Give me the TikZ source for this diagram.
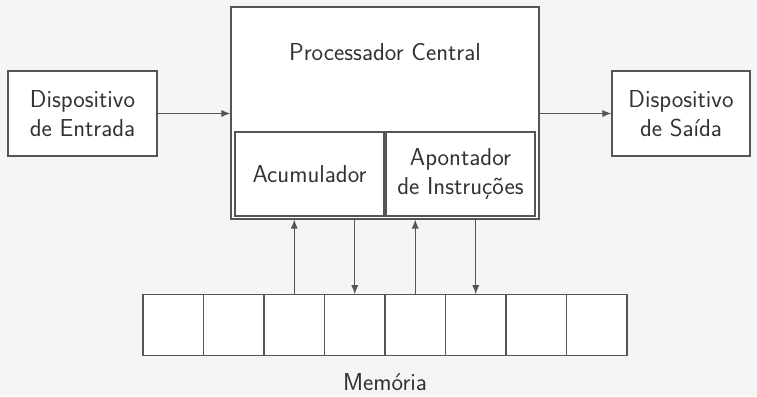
\documentclass[tikz,border=0pt]{standalone}
\usetikzlibrary{arrows.meta}
\definecolor{bgc}{HTML}{F5F5F5}
\definecolor{linec}{HTML}{555555}
\definecolor{txtc}{HTML}{333333}
\begin{document}
\begin{tikzpicture}[x=1pt,y=-1pt,
  every node/.style={font=\sffamily\fontsize{24.5}{29}\selectfont, text=txtc},
  blk/.style={draw=linec, fill=white, line width=1.1pt, align=center, inner sep=0pt},
  cell/.style={draw=linec, fill=white, line width=1.1pt, minimum width=60.5pt, minimum height=60.5pt, inner sep=0pt},
  conn/.style={draw=linec, line width=1pt, -{Latex[length=9pt,width=7pt]}}]
\fill[bgc] (0,0) rectangle (757,396);
\useasboundingbox (0,0) rectangle (757,396);
\node[blk, minimum width=149pt, minimum height=85pt] (entrada) at (82.5,113.5) {Dispositivo\\de Entrada};
\node[blk, minimum width=138pt, minimum height=85pt] (saida) at (681,113.5) {Dispositivo\\de Saída};
\node[blk, minimum width=308pt, minimum height=212pt] (proc) at (385,113) {};
\node[anchor=base] (ptitle) at (385,60) {Processador Central};
\node[blk, minimum width=149pt, minimum height=84pt] (acc) at (309.5,174) {Acumulador};
\node[blk, minimum width=149pt, minimum height=84pt] (apont) at (460.5,174) {Apontador\\de Instruções};
\foreach \i in {1,...,8} {
  \node[cell] (m\i) at ({143+60.5*(\i-0.5)},325) {};
}
\node[anchor=base, inner ysep=0pt] (mem) at (385,390) {Memória};
\draw[conn] (entrada.east) -- (entrada.east -| proc.west);
\draw[conn] (saida.west -| proc.east) -- (saida.west);
\draw[conn] (m3.north) -- (m3.north |- proc.south);
\draw[conn] (proc.south -| m4.north) -- (m4.north);
\draw[conn] (m5.north) -- (m5.north |- proc.south);
\draw[conn] (proc.south -| m6.north) -- (m6.north);
\end{tikzpicture}
\end{document}
